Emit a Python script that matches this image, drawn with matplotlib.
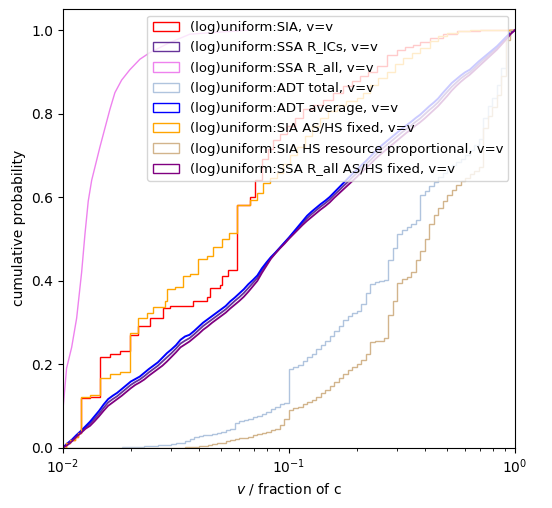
import numpy as np
import matplotlib
matplotlib.use("Agg")
import matplotlib.pyplot as plt
from matplotlib.patches import Patch

# --- curves with a few big jumps: step positions (v / fraction of c) and the
# cumulative probability the curve jumps to at each of them
sia_v = [0.0100, 0.01031, 0.01074, 0.01130, 0.01165, 0.01198, 0.01316, 0.01458, 0.01614,
         0.01787, 0.01978, 0.02154, 0.02425, 0.02770, 0.02972, 0.03760, 0.04323, 0.04466,
         0.04944, 0.05038, 0.05373, 0.05870, 0.06709, 0.07072, 0.07573, 0.08074, 0.08494,
         0.09104, 0.09768, 0.1063, 0.1153, 0.1277, 0.1414, 0.1565, 0.1734, 0.1900,
         0.2062, 0.2237, 0.2444, 0.2706, 0.2996, 0.3261, 0.3538, 0.3786, 0.4206,
         0.4802, 0.5521, 0.6973]
sia_p = [0.0, 0.010, 0.018, 0.026, 0.034, 0.118, 0.121, 0.218, 0.225,
         0.232, 0.270, 0.290, 0.310, 0.334, 0.339, 0.350, 0.360, 0.382,
         0.390, 0.410, 0.425, 0.581, 0.600, 0.640, 0.690, 0.715, 0.737,
         0.750, 0.770, 0.790, 0.810, 0.820, 0.833, 0.850, 0.865, 0.878,
         0.889, 0.900, 0.913, 0.940, 0.953, 0.960, 0.965, 0.972, 0.980,
         0.990, 0.997, 1.0]

sia_fixed_v = [0.0100, 0.01031, 0.01074, 0.01130, 0.01165, 0.01198, 0.01316, 0.01458, 0.01614,
               0.01787, 0.01978, 0.02154, 0.02346, 0.02502, 0.02827, 0.02876, 0.03131, 0.03396,
               0.03643, 0.03957, 0.04323, 0.04610, 0.05038, 0.05427, 0.05870, 0.06709, 0.07195,
               0.07674, 0.08223, 0.08823, 0.09408, 0.1010, 0.1085, 0.1177, 0.1264, 0.1368,
               0.1488, 0.1626, 0.1787, 0.1994, 0.2126, 0.2276, 0.2476, 0.2706, 0.2944,
               0.3195, 0.3502, 0.3786, 0.4192, 0.4564, 0.4987, 0.5595, 0.6298]
sia_fixed_p = [0.0, 0.010, 0.018, 0.026, 0.034, 0.122, 0.126, 0.167, 0.175,
               0.182, 0.274, 0.310, 0.322, 0.336, 0.350, 0.380, 0.385, 0.410,
               0.415, 0.452, 0.458, 0.480, 0.500, 0.515, 0.581, 0.594, 0.610,
               0.634, 0.645, 0.658, 0.680, 0.700, 0.720, 0.745, 0.770, 0.790,
               0.805, 0.821, 0.830, 0.838, 0.850, 0.869, 0.885, 0.900, 0.918,
               0.934, 0.946, 0.958, 0.973, 0.985, 0.993, 0.997, 1.0]

# points on the SSA R_all curve (it climbs almost straight up at the left)
ssa_all_v = [0.0100, 0.01038, 0.01093, 0.01150, 0.01210, 0.01251, 0.01294, 0.01340, 0.01458,
             0.01614, 0.01698, 0.01818, 0.01978, 0.02190, 0.02425, 0.02972, 0.03643, 0.06709]
ssa_all_p = [0.09, 0.19, 0.24, 0.31, 0.42, 0.51, 0.59, 0.64, 0.72,
             0.81, 0.85, 0.88, 0.905, 0.93, 0.946, 0.97, 0.99, 1.0]

# --- finely stepped curves: cumulative probability reached at the right edge
# of each of 100 log-spaced bins between 1e-2 and 1
grid_edges = np.geomspace(0.01, 1.0, 101)

adt_avg_p = [0.010, 0.019, 0.030, 0.040, 0.051, 0.062, 0.075, 0.088, 0.103, 0.116,
             0.124, 0.131, 0.140, 0.149, 0.158, 0.164, 0.170, 0.179, 0.188, 0.196,
             0.204, 0.215, 0.226, 0.235, 0.245, 0.258, 0.266, 0.270, 0.279, 0.289,
             0.299, 0.307, 0.315, 0.323, 0.331, 0.339, 0.350, 0.359, 0.369, 0.379,
             0.391, 0.401, 0.412, 0.429, 0.443, 0.456, 0.467, 0.479, 0.491, 0.503,
             0.516, 0.529, 0.542, 0.555, 0.565, 0.574, 0.583, 0.591, 0.600, 0.611,
             0.622, 0.633, 0.644, 0.655, 0.665, 0.676, 0.686, 0.697, 0.708, 0.719,
             0.728, 0.737, 0.746, 0.755, 0.764, 0.772, 0.780, 0.789, 0.797, 0.807,
             0.817, 0.826, 0.836, 0.849, 0.861, 0.873, 0.882, 0.891, 0.899, 0.905,
             0.915, 0.925, 0.934, 0.943, 0.952, 0.961, 0.972, 0.983, 0.993, 1.0]

ssa_ics_p = [0.008, 0.017, 0.028, 0.038, 0.048, 0.057, 0.069, 0.081, 0.095, 0.108,
             0.116, 0.123, 0.132, 0.141, 0.150, 0.157, 0.163, 0.171, 0.180, 0.188,
             0.196, 0.206, 0.216, 0.226, 0.237, 0.249, 0.256, 0.262, 0.271, 0.281,
             0.291, 0.299, 0.307, 0.315, 0.323, 0.331, 0.341, 0.351, 0.360, 0.370,
             0.382, 0.394, 0.406, 0.424, 0.439, 0.454, 0.466, 0.478, 0.490, 0.502,
             0.514, 0.526, 0.538, 0.549, 0.559, 0.568, 0.577, 0.585, 0.594, 0.605,
             0.615, 0.626, 0.636, 0.647, 0.657, 0.668, 0.678, 0.688, 0.699, 0.710,
             0.719, 0.728, 0.737, 0.746, 0.755, 0.763, 0.771, 0.780, 0.788, 0.798,
             0.808, 0.817, 0.827, 0.840, 0.852, 0.864, 0.874, 0.884, 0.892, 0.899,
             0.909, 0.919, 0.929, 0.938, 0.948, 0.957, 0.969, 0.980, 0.992, 1.0]

ssa_all_fixed_p = [0.006, 0.015, 0.026, 0.035, 0.045, 0.052, 0.063, 0.075, 0.088, 0.100,
                   0.108, 0.116, 0.124, 0.133, 0.142, 0.150, 0.156, 0.163, 0.172, 0.180,
                   0.188, 0.196, 0.206, 0.217, 0.228, 0.240, 0.247, 0.254, 0.263, 0.272,
                   0.282, 0.290, 0.299, 0.307, 0.315, 0.323, 0.333, 0.342, 0.351, 0.361,
                   0.373, 0.386, 0.399, 0.418, 0.435, 0.452, 0.465, 0.477, 0.488, 0.500,
                   0.511, 0.522, 0.533, 0.543, 0.552, 0.561, 0.570, 0.578, 0.587, 0.598,
                   0.608, 0.618, 0.628, 0.638, 0.648, 0.659, 0.669, 0.679, 0.690, 0.700,
                   0.709, 0.718, 0.727, 0.736, 0.745, 0.754, 0.762, 0.771, 0.779, 0.788,
                   0.798, 0.808, 0.818, 0.830, 0.842, 0.855, 0.866, 0.876, 0.885, 0.893,
                   0.903, 0.913, 0.923, 0.933, 0.943, 0.953, 0.965, 0.977, 0.990, 1.0]

adt_total_p = [0.0, 0.0, 0.0, 0.0, 0.0, 0.0, 0.0, 0.0, 0.0, 0.0,
               0.0, 0.0, 0.0, 0.001, 0.001, 0.001, 0.002, 0.002, 0.003, 0.003,
               0.004, 0.005, 0.006, 0.007, 0.009, 0.010, 0.012, 0.016, 0.020, 0.025,
               0.027, 0.029, 0.031, 0.033, 0.035, 0.038, 0.041, 0.044, 0.058, 0.063,
               0.066, 0.069, 0.072, 0.076, 0.081, 0.086, 0.092, 0.098, 0.104, 0.106,
               0.187, 0.192, 0.197, 0.207, 0.216, 0.225, 0.235, 0.245, 0.256, 0.268,
               0.280, 0.292, 0.306, 0.316, 0.322, 0.328, 0.345, 0.370, 0.392, 0.396,
               0.398, 0.402, 0.450, 0.478, 0.512, 0.520, 0.528, 0.535, 0.545, 0.606,
               0.615, 0.626, 0.636, 0.647, 0.658, 0.668, 0.676, 0.684, 0.692, 0.700,
               0.712, 0.725, 0.738, 0.790, 0.818, 0.838, 0.868, 0.910, 0.985, 1.0]

sia_hs_p = [0.0, 0.0, 0.0, 0.0, 0.0, 0.0, 0.0, 0.0, 0.0, 0.0,
            0.0, 0.0, 0.0, 0.0, 0.0, 0.0, 0.0, 0.0, 0.0, 0.0,
            0.0, 0.0, 0.0, 0.0, 0.0, 0.0, 0.0, 0.001, 0.001, 0.002,
            0.003, 0.004, 0.006, 0.008, 0.010, 0.012, 0.015, 0.018, 0.020, 0.022,
            0.024, 0.026, 0.029, 0.032, 0.035, 0.038, 0.041, 0.045, 0.055, 0.068,
            0.090, 0.094, 0.098, 0.104, 0.109, 0.114, 0.122, 0.130, 0.139, 0.148,
            0.158, 0.167, 0.177, 0.185, 0.193, 0.201, 0.209, 0.225, 0.252, 0.254,
            0.256, 0.262, 0.318, 0.350, 0.395, 0.403, 0.408, 0.420, 0.450, 0.470,
            0.500, 0.535, 0.556, 0.573, 0.590, 0.605, 0.618, 0.630, 0.638, 0.646,
            0.654, 0.662, 0.672, 0.765, 0.795, 0.815, 0.845, 0.890, 0.975, 1.0]

labels = ["(log)uniform:SIA, v=v",
          "(log)uniform:SSA R_ICs, v=v",
          "(log)uniform:SSA R_all, v=v",
          "(log)uniform:ADT total, v=v",
          "(log)uniform:ADT average, v=v",
          "(log)uniform:SIA AS/HS fixed, v=v",
          "(log)uniform:SIA HS resource proportional, v=v",
          "(log)uniform:SSA R_all AS/HS fixed, v=v"]
colours = ["red", "rebeccapurple", "violet", "lightsteelblue",
           "blue", "orange", "tan", "purple"]


def step_cdf(ax, v, p, colour, edges=None):
    # cumulative step histogram: jumps to p[i] at v[i]
    if edges is None:
        edges = np.append(v, 1.0)
    edges = np.array(edges, dtype=float)
    edges[-1] = 1.05  # keep the closing drop outside the axes
    weights = np.diff(np.concatenate([[0.0], p]))
    ax.hist(v, bins=edges, weights=weights, cumulative=True, histtype="step",
            color=colour, zorder=1)


def line_cdf(ax, v, p, colour, lw):
    ax.plot(np.r_[0.01, v], np.r_[0.0, p], color=colour, lw=lw, zorder=1)


fig, ax = plt.subplots(figsize=(5.52, 5.08), dpi=100)
fig.subplots_adjust(left=0.114, right=0.933, bottom=0.119, top=0.982)

grid_mid = np.sqrt(grid_edges[:-1] * grid_edges[1:])

step_cdf(ax, sia_v, sia_p, colours[0])
line_cdf(ax, grid_edges[1:], ssa_ics_p, colours[1], 1.3)
line_cdf(ax, ssa_all_v, ssa_all_p, colours[2], 1.0)
step_cdf(ax, grid_mid, adt_total_p, colours[3], edges=grid_edges)
line_cdf(ax, grid_edges[1:], adt_avg_p, colours[4], 1.4)
step_cdf(ax, sia_fixed_v, sia_fixed_p, colours[5])
step_cdf(ax, grid_mid, sia_hs_p, colours[6], edges=grid_edges)
line_cdf(ax, grid_edges[1:], ssa_all_fixed_p, colours[7], 1.3)

ax.set_xscale("log")
ax.set_xlim(0.01, 1)
ax.set_ylim(0, 1.05)
ax.set_xlabel(r"$v$ / fraction of c")
ax.set_ylabel("cumulative probability")

handles = [Patch(facecolor="none", edgecolor=c, label=l) for l, c in zip(labels, colours)]
ax.legend(handles=handles, loc="upper right", fontsize=9.5, labelspacing=0.55)

fig.savefig("out.png", dpi=100)
